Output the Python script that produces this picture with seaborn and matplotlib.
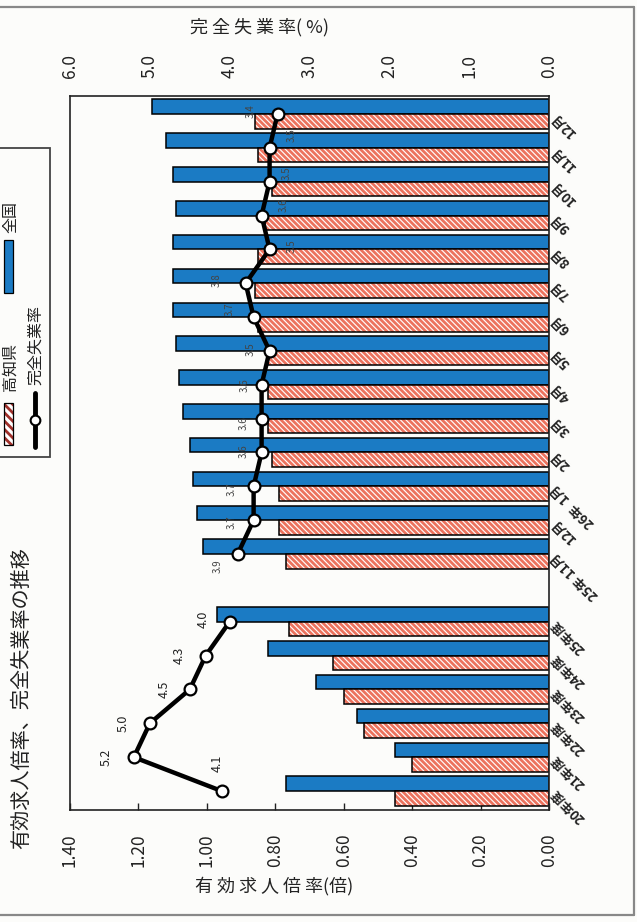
import matplotlib
matplotlib.use("Agg")
import matplotlib.pyplot as plt
import numpy as np
import pandas as pd
import seaborn as sns
from matplotlib.patches import Rectangle
from matplotlib.lines import Line2D

# ---------------- data ----------------
annual_labels = ['20年度', '21年度', '22年度', '23年度', '24年度', '25年度']
monthly_labels = ['25年 11月', '12月', '26年  1月', '2月', '3月', '4月', '5月',
                  '6月', '7月', '8月', '9月', '10月', '11月', '12月']

annual_kochi = [0.45, 0.40, 0.54, 0.60, 0.63, 0.76]
annual_zenkoku = [0.77, 0.45, 0.56, 0.68, 0.82, 0.97]
annual_unemp = [4.1, 5.2, 5.0, 4.5, 4.3, 4.0]

monthly_kochi = [0.77, 0.79, 0.79, 0.81, 0.82, 0.82, 0.82, 0.85, 0.86, 0.85, 0.83, 0.81, 0.85, 0.86]
monthly_zenkoku = [1.01, 1.03, 1.04, 1.05, 1.07, 1.08, 1.09, 1.10, 1.10, 1.10, 1.09, 1.10, 1.12, 1.16]
monthly_unemp = [3.9, 3.7, 3.7, 3.6, 3.6, 3.6, 3.5, 3.7, 3.8, 3.5, 3.6, 3.5, 3.5, 3.4]

x_ticks_ratio = [0.0, 0.2, 0.4, 0.6, 0.8, 1.0, 1.2, 1.4]
x_ticks_rate = [0.0, 1.0, 2.0, 3.0, 4.0, 5.0, 6.0]

title = '有効求人倍率、完全失業率の推移'
series_names = ['全国', '高知県']
line_name = '完全失業率'

# ---------------- styling / layout (not data) ----------------
W, H = 637, 922
BLUE = '#1b7bc4'
SALMON = '#ec735e'
BG = '#fcfcfa'
HATCH = '\\\\\\\\\\\\'
# label offsets in pixels (dx right, dy down) for value labels
annual_off = [(-4, -28), (-28, 0), (-27, 0), (-26, 0), (-26, 0), (-26, -2)]
monthly_off = [(-20, 12), (-22, 2), (-22, 3), (-18, -1), (-18, 4), (-17, 0), (-19, -2),
               (-24, -8), (-29, -3), (22, -3), (22, -10), (17, -8), (22, -13), (-27, -3)]

sns.set_theme(style='white')
plt.rcParams['font.family'] = ['Noto Sans CJK JP', 'DejaVu Sans']
plt.rcParams['hatch.linewidth'] = 2.0

fig = plt.figure(figsize=(W / 100, H / 100), dpi=100)
fig.patch.set_facecolor(BG)


def fx(x):
    return x / W


def fy(y):
    return 1 - y / H


ax = fig.add_axes([fx(70), fy(810), fx(549) - fx(70), fy(96) - fy(810)])
ax.set_facecolor(BG)

# categories bottom->top, with one empty slot
cat_keys = [f'Y{i}' for i in range(len(annual_labels))] + ['GAP'] + \
           [f'M{i}' for i in range(len(monthly_labels))]
cat_text = dict(zip(cat_keys, annual_labels + [''] + monthly_labels))
order = cat_keys[::-1]  # seaborn puts first category at top

rows = []
for k, z, c in zip(cat_keys[:6], annual_zenkoku, annual_kochi):
    rows.append((k, '全国', z))
    rows.append((k, '高知県', c))
for k, z, c in zip(cat_keys[7:], monthly_zenkoku, monthly_kochi):
    rows.append((k, '全国', z))
    rows.append((k, '高知県', c))
df = pd.DataFrame(rows, columns=['cat', 'series', 'value'])

sns.barplot(data=df, x='value', y='cat', hue='series', order=order,
            hue_order=series_names, palette={'全国': BLUE, '高知県': 'white'},
            orient='h', width=0.86, saturation=1, edgecolor='black',
            linewidth=1.1, legend=False, ax=ax)

# hatch the Kochi bars (salmon stripes + black outline)
for p in list(ax.patches):
    fc = p.get_facecolor()
    if fc[0] > 0.95 and fc[1] > 0.95 and fc[2] > 0.95:
        x0, y0 = p.get_xy()
        w, h = p.get_width(), p.get_height()
        p.set_edgecolor(SALMON)
        p.set_linewidth(0)
        p.set_hatch(HATCH)
        ax.add_patch(Rectangle((x0, y0), w, h, fill=False, edgecolor='black',
                               linewidth=1.1, zorder=p.get_zorder() + 0.1))

ax.set_xlim(1.40, 0.0)
ax.set_ylim(20.56, -0.53)
ax.set_xticks(x_ticks_ratio)
ax.set_xticklabels([f'{v:.2f}' for v in x_ticks_ratio], rotation=90, fontsize=12.5)
ax.tick_params(axis='x', direction='in', length=5, width=1, pad=17, colors='#222')
ax.set_xlabel('')
ax.set_ylabel('')
ax.yaxis.tick_right()
ax.set_yticks(range(len(order)))
ax.set_yticklabels([cat_text[k] for k in order])
ax.tick_params(axis='y', length=0, pad=3)
for t in ax.get_yticklabels():
    t.set_rotation(135)
    t.set_rotation_mode('anchor')
    t.set_ha('right')
    t.set_va('center')
    t.set_fontsize(9.5)
    t.set_fontweight('bold')
    t.set_color('#222')
for s in ax.spines.values():
    s.set_color('#222')
    s.set_linewidth(1.2)

# unemployment line on twin (top) axis
ax2 = ax.twiny()
pos = {k: i for i, k in enumerate(order)}
annual_pos = [pos[k] for k in cat_keys[:6]]
monthly_pos = [pos[k] for k in cat_keys[7:]]
line_kw = dict(color='black', linewidth=3.2, marker='o', markersize=8.5,
               markerfacecolor='white', markeredgecolor='black',
               markeredgewidth=1.6, orient='y', sort=False, ax=ax2)
sns.lineplot(x=annual_unemp, y=annual_pos, **line_kw)
sns.lineplot(x=monthly_unemp, y=monthly_pos, **line_kw)
ax2.set_xlim(6.0, 0.0)
ax.set_ylim(20.56, -0.53)
ax2.set_ylabel('')
ax2.set_xlabel('')
ax2.set_xticks(x_ticks_rate)
ax2.set_xticklabels([f'{v:.1f}' for v in x_ticks_rate], rotation=90, fontsize=12.5)
ax2.tick_params(axis='x', direction='in', length=0, pad=13, colors='#222')
for s in ax2.spines.values():
    s.set_visible(False)

for v, yp, (dx, dy) in zip(annual_unemp, annual_pos, annual_off):
    ax2.annotate(f'{v:.1f}', xy=(v, yp), xytext=(dx * 0.72, -dy * 0.72),
                 textcoords='offset points', rotation=90, ha='center', va='center',
                 fontsize=9, color='#222')
for v, yp, (dx, dy) in zip(monthly_unemp, monthly_pos, monthly_off):
    ax2.annotate(f'{v:.1f}', xy=(v, yp), xytext=(dx * 0.72, -dy * 0.72),
                 textcoords='offset points', rotation=90, ha='center', va='center',
                 fontsize=7, color='#444')

# titles and axis names
fig.text(fx(22), fy(698), title, rotation=90, ha='center', va='center', fontsize=14.5, color='#222')
fig.text(fx(274), fy(886), '有 効 求 人 倍 率(倍)', ha='center', va='center', fontsize=13, color='#222')
fig.text(fx(260), fy(27), '完 全 失 業 率( %)', ha='center', va='center', fontsize=13, color='#222')

# manual rotated legend
def frect(x0, y0, x1, y1, **kw):
    r = Rectangle((fx(x0), fy(y1)), fx(x1) - fx(x0), fy(y0) - fy(y1),
                  transform=fig.transFigure, clip_on=False, **kw)
    fig.add_artist(r)
    return r

frect(-6, 148, 50, 457, fill=False, edgecolor='#444', linewidth=1.3)
frect(4, 240, 13, 293, facecolor=BLUE, edgecolor='black', linewidth=0.9)
fig.text(fx(10.5), fy(217), series_names[0], rotation=90, ha='center', va='center', fontsize=11.5, color='#222')
frect(4, 403, 13, 445, facecolor='white', edgecolor='#a0302a', linewidth=0, hatch='\\\\\\\\')
frect(4, 403, 13, 445, fill=False, edgecolor='black', linewidth=0.9)
fig.text(fx(10), fy(367), series_names[1], rotation=90, ha='center', va='center', fontsize=11.5, color='#222')
fig.add_artist(Line2D([fx(35), fx(35)], [fy(393), fy(447)], transform=fig.transFigure,
                      color='black', linewidth=3.5))
fig.add_artist(Line2D([fx(35)], [fy(420)], transform=fig.transFigure, marker='o',
                      markersize=7, markerfacecolor='white', markeredgecolor='black',
                      markeredgewidth=1.5))
fig.text(fx(36), fy(345), line_name, rotation=90, ha='center', va='center', fontsize=11.5, color='#222')

# scanned page border
for xs, ys in [([0, 634], [7, 7]), ([634, 634], [7, 915]), ([0, 634], [915, 915])]:
    fig.add_artist(Line2D([fx(v) for v in xs], [fy(v) for v in ys], transform=fig.transFigure,
                          color='#888', linewidth=1.6))

fig.savefig('out.png', dpi=100, facecolor=BG)
